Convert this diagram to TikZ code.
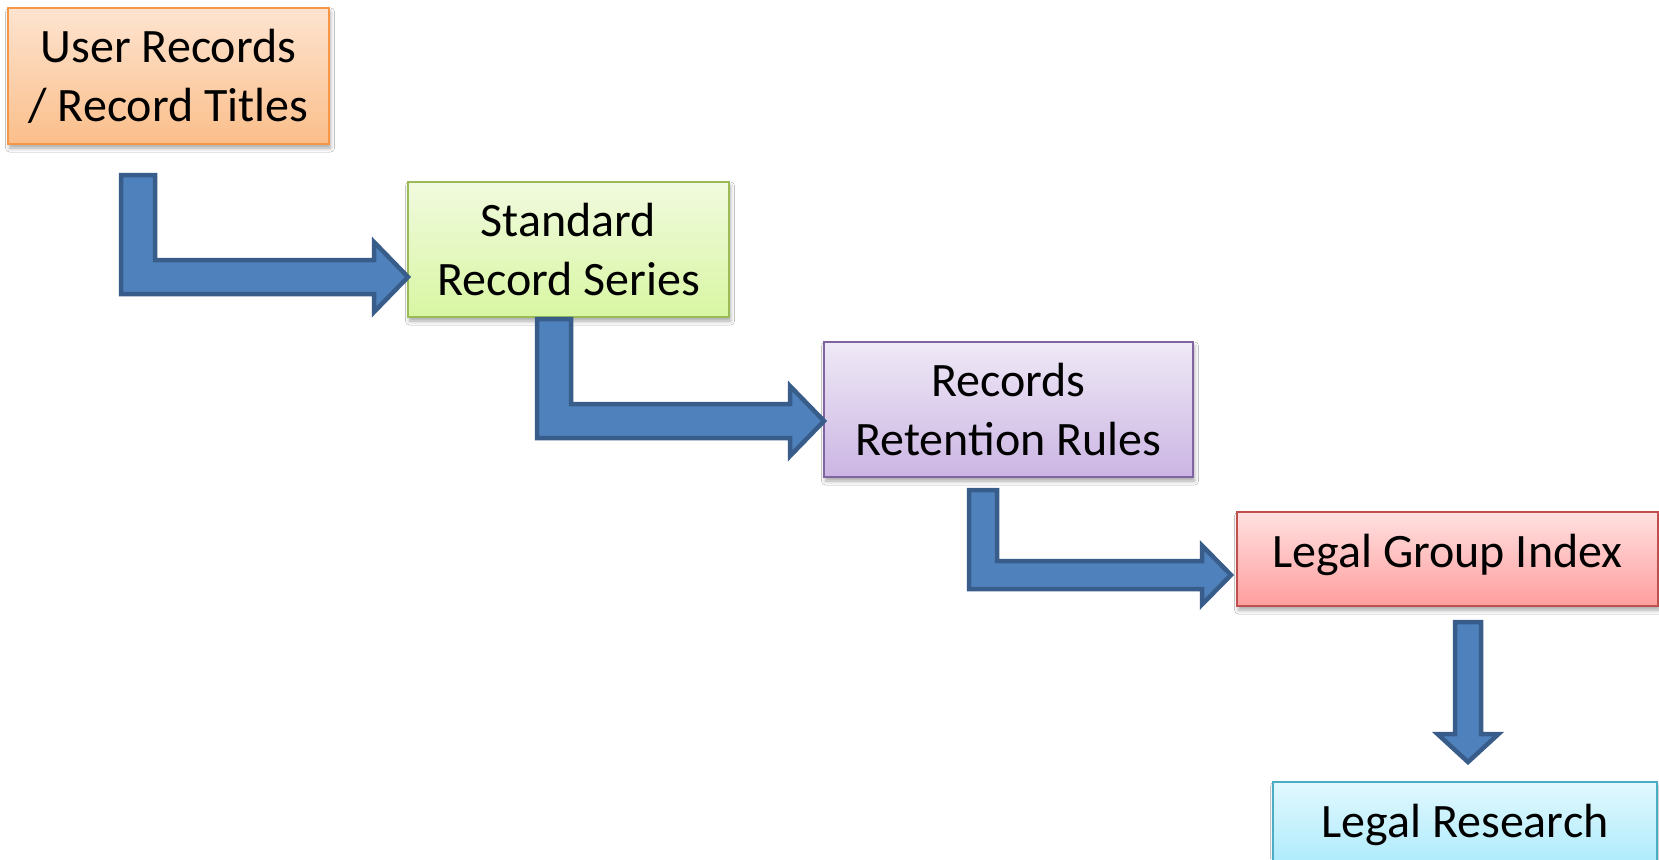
\documentclass[tikz,border=0pt]{standalone}
\usepackage{fontspec}
\setmainfont{Carlito}
\usetikzlibrary{calc,shadows.blur}

\definecolor{arrowfill}{HTML}{4F81BD}
\definecolor{arrowline}{HTML}{385D8A}
\definecolor{orangeline}{HTML}{F79646}
\definecolor{orangetop}{HTML}{FDE4D0}
\definecolor{orangebot}{HTML}{FBBE8A}
\definecolor{greenline}{HTML}{9BBB59}
\definecolor{greentop}{HTML}{F1FADF}
\definecolor{greenbot}{HTML}{D8F6A2}
\definecolor{purpleline}{HTML}{8064A2}
\definecolor{purpletop}{HTML}{EFE9F6}
\definecolor{purplebot}{HTML}{CBB5E3}
\definecolor{redline}{HTML}{C0504D}
\definecolor{redtop}{HTML}{FFE0E0}
\definecolor{redbot}{HTML}{FF9E9E}
\definecolor{cyanline}{HTML}{4BACC6}
\definecolor{cyantop}{HTML}{E2F8FE}
\definecolor{cyanbot}{HTML}{A6E9FC}

\tikzset{
  stage/.style={draw, line width=2pt, inner sep=0pt, align=center,
    font=\fontsize{48}{59}\selectfont,
    blur shadow={shadow xshift=1.5pt, shadow yshift=-4pt, shadow blur radius=4pt, shadow opacity=35}},
  oneline/.style={text height=30pt, text depth=14pt},
  orangebox/.style={stage, draw=orangeline, top color=orangetop, bottom color=orangebot},
  greenbox/.style={stage, draw=greenline, top color=greentop, bottom color=greenbot},
  purplebox/.style={stage, draw=purpleline, top color=purpletop, bottom color=purplebot},
  redbox/.style={stage, draw=redline, top color=redtop, bottom color=redbot},
  cyanbox/.style={stage, draw=cyanline, top color=cyantop, bottom color=cyanbot},
  flowarrow/.style={fill=arrowfill, draw=arrowline, line width=4.5pt, line join=miter}
}

% L-shaped block arrow: #1 top centre of the shaft, #2 tip,
% #3 half shaft width, #4 half head width, #5 head length (all in pt)
\newcommand\bentarrow[5]{%
  \draw[flowarrow] let \p1=(#1), \p2=(#2) in
    (\x1-#3pt,\y1) -- (\x1+#3pt,\y1) -- (\x1+#3pt,\y2+#3pt) --
    (\x2-#5pt,\y2+#3pt) -- (\x2-#5pt,\y2+#4pt) -- (\x2,\y2) --
    (\x2-#5pt,\y2-#4pt) -- (\x2-#5pt,\y2-#3pt) -- (\x1-#3pt,\y2-#3pt) -- cycle;}

% straight downward block arrow, same arguments
\newcommand\vertarrow[5]{%
  \draw[flowarrow] let \p1=(#1), \p2=(#2) in
    (\x1-#3pt,\y1) -- (\x1+#3pt,\y1) -- (\x1+#3pt,\y2+#5pt) --
    (\x1+#4pt,\y2+#5pt) -- (\x1,\y2) -- (\x1-#4pt,\y2+#5pt) --
    (\x1-#3pt,\y2+#5pt) -- cycle;}

\begin{document}
\begin{tikzpicture}[x=1pt, y=-1pt]
  \useasboundingbox (0,0) rectangle (1659,859);
  \fill[white] (0,0) rectangle (1659,859);
  \clip (0,0) rectangle (1659,859);

  \node[orangebox, minimum width=321pt, minimum height=136pt] (A) at (168.5,76)
    {User Records\\/ Record Titles};
  \node[greenbox, minimum width=321pt, minimum height=135pt] (B) at (568.5,249.5)
    {Standard\\Record Series};
  \node[purplebox, minimum width=369pt, minimum height=135pt] (C) at (1008.5,409.5)
    {Records\\Retention Rules};
  \node[redbox, oneline, minimum width=421pt, minimum height=94pt] (D) at (1447.5,559)
    {Legal Group Index};
  \node[cyanbox, oneline, minimum width=384pt, minimum height=94pt] (E) at (1465,829)
    {Legal Research};

  \coordinate (s1) at ($(A.south)+(-30.5,30)$);
  \coordinate (t1) at ($(B.west)+(1,27.5)$);
  \coordinate (s2) at ($(B.south)+(-14.5,1)$);
  \coordinate (t2) at ($(C.west)+(1,11.5)$);
  \coordinate (s3) at ($(C.south)+(-25.5,12)$);
  \coordinate (t3) at ($(D.west)+(-5,16)$);
  \coordinate (s4) at ($(D.south)+(20.5,15)$);
  \coordinate (t4) at ($(E.north)+(3,-19)$);

  \bentarrow{s1}{t1}{17}{35}{34}
  \bentarrow{s2}{t2}{17}{35}{34}
  \bentarrow{s3}{t3}{14}{29.5}{29}
  \vertarrow{s4}{t4}{13}{30.5}{28}
\end{tikzpicture}
\end{document}
